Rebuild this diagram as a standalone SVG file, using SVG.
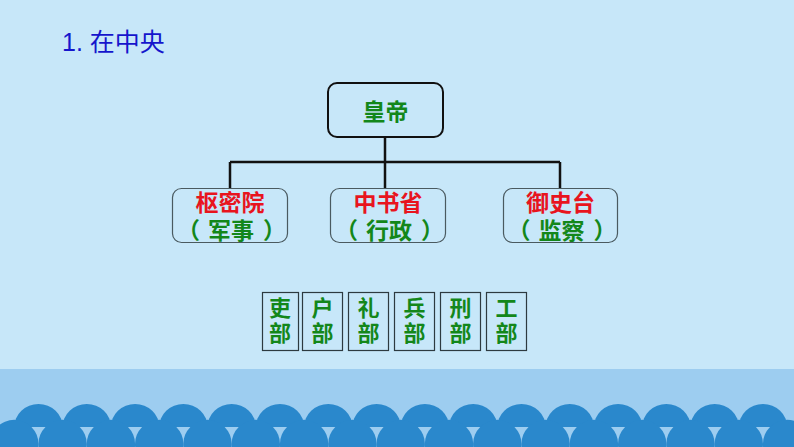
<svg xmlns="http://www.w3.org/2000/svg" width="794" height="447" viewBox="0 0 794 447">
<style>
.cj{font-family:"Noto Sans CJK SC","Noto Sans CJK TC",sans-serif;font-weight:bold}
.c{text-anchor:middle}
.g{fill:#13871a}
.r{fill:#e8141e}
.top{fill:none;stroke:#111;stroke-width:2}
.mid{fill:none;stroke:#4a5a60;stroke-width:1.2}
.sm{fill:none;stroke:#2d3a40;stroke-width:1.2}
.w{fill:#2a88cc}
</style>
<defs>
<path id="t" d="M-24.2,427 A24.2,23 0 0 1 24.2,427 Z"/>
<circle id="b" cx="0" cy="444" r="24.2"/>
</defs>
<rect x="0" y="0" width="794" height="447" fill="#c7e7f9"/>
<rect x="0" y="369" width="794" height="78" fill="#9dcdf0"/>
<g id="waves" class="w">
<use href="#t" x="38.5"/><use href="#t" x="86.8"/><use href="#t" x="135.1"/><use href="#t" x="183.4"/><use href="#t" x="231.7"/><use href="#t" x="280"/><use href="#t" x="328.3"/><use href="#t" x="376.6"/><use href="#t" x="424.9"/><use href="#t" x="473.2"/><use href="#t" x="521.5"/><use href="#t" x="569.8"/><use href="#t" x="618.1"/><use href="#t" x="666.4"/><use href="#t" x="714.7"/><use href="#t" x="763"/>
<use href="#b" x="14.3"/><use href="#b" x="62.6"/><use href="#b" x="110.9"/><use href="#b" x="159.2"/><use href="#b" x="207.5"/><use href="#b" x="255.8"/><use href="#b" x="304.1"/><use href="#b" x="352.4"/><use href="#b" x="400.7"/><use href="#b" x="449"/><use href="#b" x="497.3"/><use href="#b" x="545.6"/><use href="#b" x="593.9"/><use href="#b" x="642.2"/><use href="#b" x="690.5"/><use href="#b" x="738.8"/><use href="#b" x="787.1"/>
</g>
<text x="62" y="51" font-family="Liberation Sans,Noto Sans CJK SC,sans-serif" font-size="25" fill="#1515cc">1. 在中央</text>
<g id="connectors" fill="none" stroke="#111" stroke-width="2.5">
<path d="M385,137 V188 M230,162 H560 M230,162 V188 M560,162 V188"/>
</g>
<g id="emperor">
<rect class="top" x="328" y="83" width="115" height="54" rx="9"/>
<text class="cj c g" x="385.5" y="120" font-size="23">皇帝</text>
</g>
<g id="shumiyuan">
<rect class="mid" x="172.5" y="188.5" width="115" height="54" rx="9"/>
<text class="cj" font-size="23"><tspan class="c r" x="230" y="211">枢密院</tspan><tspan class="g" x="177" y="239" dx="0 8 0 9">（军事）</tspan></text>
</g>
<g id="zhongshusheng">
<rect class="mid" x="330.5" y="188.5" width="115" height="54" rx="9"/>
<text class="cj" font-size="23"><tspan class="c r" x="388" y="211">中书省</tspan><tspan class="g" x="335" y="239" dx="0 8 0 9">（行政）</tspan></text>
</g>
<g id="yushitai">
<rect class="mid" x="503.5" y="188.5" width="114" height="54" rx="9"/>
<text class="cj" font-size="23"><tspan class="c r" x="560.5" y="211">御史台</tspan><tspan class="g" x="507.5" y="239" dx="0 8 0 9">（监察）</tspan></text>
</g>
<g id="libu">
<rect class="sm" x="262.5" y="292.5" width="36" height="58"/>
<text class="cj c g" font-size="22"><tspan x="280" y="316">吏</tspan><tspan x="280" y="341">部</tspan></text>
</g>
<g id="hubu">
<rect class="sm" x="302.5" y="292.5" width="40" height="58"/>
<text class="cj c g" font-size="22"><tspan x="322.5" y="316">户</tspan><tspan x="322.5" y="341">部</tspan></text>
</g>
<g id="libu2">
<rect class="sm" x="348.5" y="292.5" width="40" height="58"/>
<text class="cj c g" font-size="22"><tspan x="368.5" y="316">礼</tspan><tspan x="368.5" y="341">部</tspan></text>
</g>
<g id="bingbu">
<rect class="sm" x="394.5" y="292.5" width="40" height="58"/>
<text class="cj c g" font-size="22"><tspan x="414.5" y="316">兵</tspan><tspan x="414.5" y="341">部</tspan></text>
</g>
<g id="xingbu">
<rect class="sm" x="440.5" y="292.5" width="40" height="58"/>
<text class="cj c g" font-size="22"><tspan x="460.5" y="316">刑</tspan><tspan x="460.5" y="341">部</tspan></text>
</g>
<g id="gongbu">
<rect class="sm" x="486.5" y="292.5" width="40" height="58"/>
<text class="cj c g" font-size="22"><tspan x="506.5" y="316">工</tspan><tspan x="506.5" y="341">部</tspan></text>
</g>
</svg>
